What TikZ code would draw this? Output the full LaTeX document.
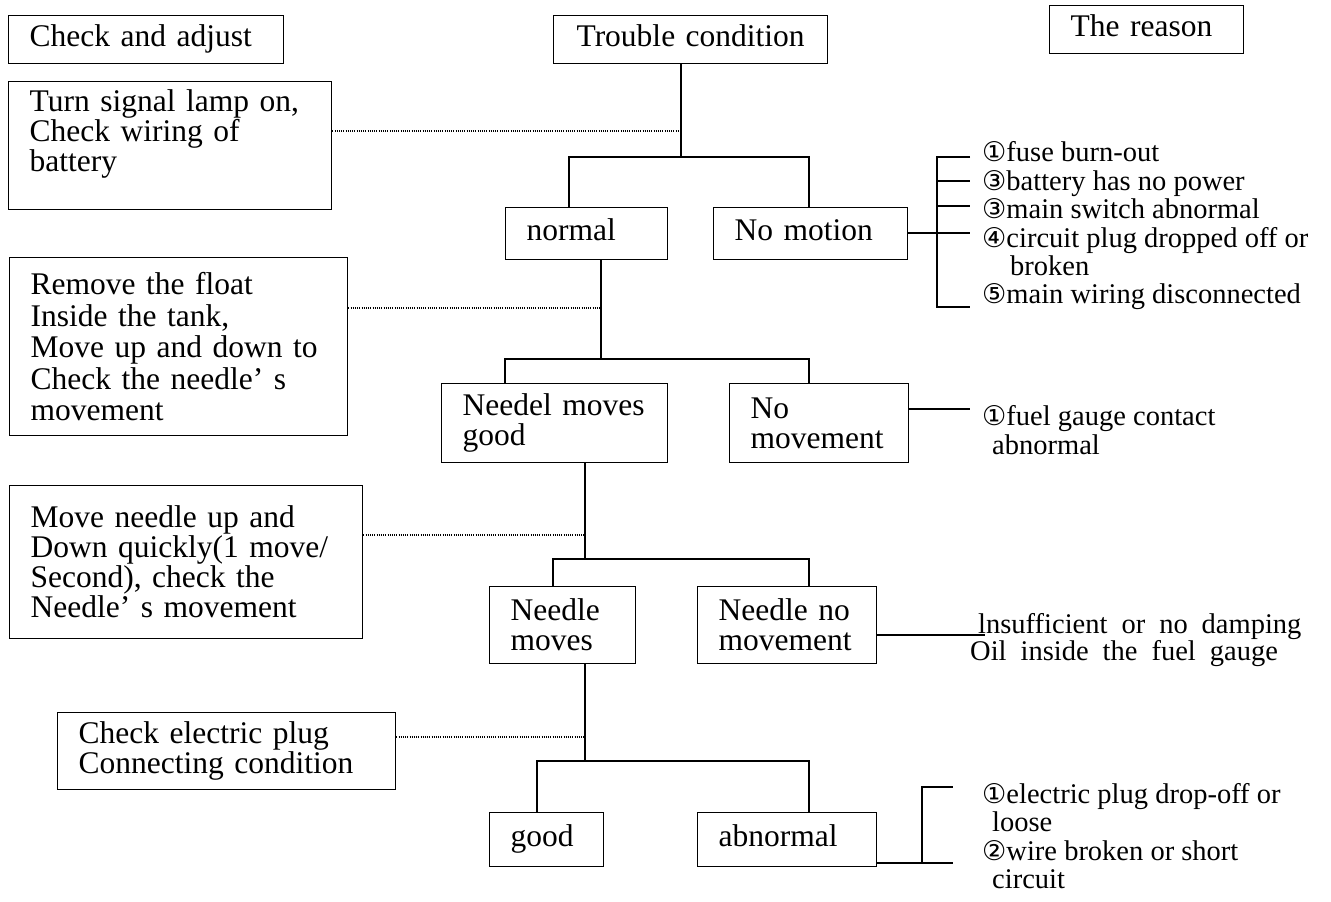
\documentclass[tikz,border=0pt]{standalone}
\usepackage{fontspec}
\setmainfont{Liberation Serif}
\newfontfamily\circfont{DejaVu Sans}[Scale=0.95]
\usetikzlibrary{calc}
\newcommand{\cn}[1]{{\circfont #1}}
\newcommand{\wsp}{\hspace{14bp}}

\begin{document}
\begin{tikzpicture}[x=1bp, y=-1bp,
    box/.style={draw, line width=1.3bp, anchor=north west, inner xsep=21bp, inner ysep=4bp,
        align=left, font=\fontsize{31.5bp}{30bp}\selectfont},
    oneline/.style={text height=21bp, text depth=7bp},
    why/.style={anchor=west, inner sep=0pt, align=left, font=\fontsize{28.5bp}{28.4bp}\selectfont},
    wire/.style={line width=1.3bp},
    hint/.style={line width=1.1bp, dash pattern=on 1.1bp off 1.1bp}]
    \useasboundingbox (0,0) rectangle (1331,901);

    % Headings
    \node[box, oneline, text width=233bp, minimum height=48bp] (chk) at (8,15) {Check and adjust};
    \node[box, oneline, text width=232bp, minimum height=48bp, align=center] (trb) at (553,15) {Trouble condition};
    \node[box, oneline, text width=152bp, minimum height=48bp] (rsn) at (1049,5) {The reason};

    % Checks on the left
    \node[box, text width=281bp, minimum height=128bp] (tsig) at (8,81)
        {Turn signal lamp on,\\Check wiring of\\battery\\ \mbox{}};
    \node[box, text width=296bp, minimum height=178bp, font=\fontsize{31.5bp}{31.5bp}\selectfont] (rmv) at (9,257)
        {Remove the float\\Inside the tank,\\Move up and down to\\Check the needle’ s\\movement};
    \node[box, text width=311bp, minimum height=153bp] (mvn) at (9,485)
        {Move needle up and\\Down quickly(1 move/\\Second), check the\\Needle’ s movement};
    \node[box, text width=296bp, minimum height=77bp, font=\fontsize{31.5bp}{27bp}\selectfont] (cep) at (57,712)
        {Check electric plug\\Connecting condition};

    % Conditions
    \node[box, oneline, text width=120bp, minimum height=52bp] (nrm) at (505,207) {normal};
    \node[box, oneline, text width=152bp, minimum height=52bp] (nom) at (713,207) {No motion};
    \node[box, text width=184bp, minimum height=79bp] (nmg) at (441,383) {Needel moves\\good};
    \node[box, text width=137bp, minimum height=79bp] (nmv) at (729,383) {No\\movement};
    \node[box, text width=104bp, minimum height=77bp] (ndm) at (489,586) {Needle\\moves};
    \node[box, text width=137bp, minimum height=77bp] (nnm) at (697,586) {Needle no\\movement};
    \node[box, oneline, text width=72bp, minimum height=54bp] (god) at (489,812) {good};
    \node[box, oneline, text width=137bp, minimum height=54bp] (abn) at (697,812) {abnormal};

    % Tree
    \foreach \up/\x/\y/\xl/\dl/\dr in {trb/681/157/569/nrm/nom, nrm/601/359/505/nmg/nmv,
                                      nmg/585/559/553/ndm/nnm, ndm/585/761/537/god/abn}
        \draw[wire] (\up.south -| \x,\y) -- (\x,\y)
                    (\xl,\y |- \dl.north) -- (\xl,\y) -- (809,\y) -- (809,\y |- \dr.north);

    % Dotted hints
    \foreach \bx/\x/\y in {tsig/681/131, rmv/601/308, mvn/585/535, cep/585/737}
        \draw[hint] (\bx.east |- \x,\y) -- (\x,\y);

    % Reasons
    \coordinate (k1) at (970,233);
    \coordinate (k2) at (970,409);
    \coordinate (k3) at (985,635);
    \coordinate (k4) at (953,863);
    \draw[wire] (nom.east |- k1) -- (k1);
    \draw[wire] (970,157) -- (937,157) -- (937,307) -- (970,307);
    \foreach \y in {181,206}
        \draw[wire] (937,\y) -- (970,\y);
    \draw[wire] (nmv.east |- k2) -- (k2);
    \draw[wire] (nnm.east |- k3) -- (k3);
    \draw[wire] (abn.east |- k4) -- (k4) (922,863) -- (922,787) -- (953,787);

    \node[why] (r1) at (982,226) {\cn{①}fuse burn-out\\\cn{③}battery has no power\\\cn{③}main switch abnormal\\
        \cn{④}circuit plug dropped off or\\\hspace*{28bp}broken\\\cn{⑤}main wiring disconnected};
    \node[why] (r2) at (982,430) {\cn{①}fuel gauge contact\\\hspace*{10bp}abnormal};
    \node[why, font=\fontsize{28.5bp}{24bp}\selectfont] (r3) at (970,640)
        {\hspace*{8bp}lnsufficient\wsp or\wsp no\wsp damping\\Oil\wsp inside\wsp the\wsp fuel\wsp gauge};
    \node[why] (r4) at (982,836) {\cn{①}electric plug drop-off or\\\hspace*{10bp}loose\\
        \cn{②}wire broken or short\\\hspace*{10bp}circuit};
\end{tikzpicture}
\end{document}
